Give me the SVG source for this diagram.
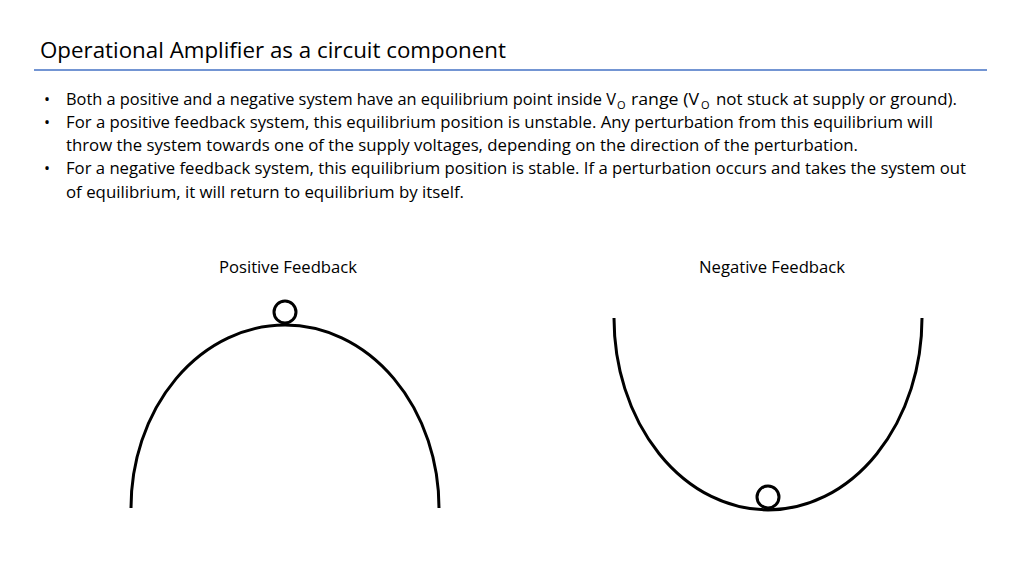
<svg xmlns="http://www.w3.org/2000/svg" width="1024" height="576" viewBox="0 0 1024 576">
<style>
text{font-family:"Open Sans","Liberation Sans",sans-serif;fill:#000}
.b{font-size:16px}
.s{font-size:11px}
.c{fill:none;stroke:#000;stroke-width:3}
</style>
<rect width="1024" height="576" fill="#fff"/>
<g id="title">
<text x="40" y="58" font-size="22" textLength="466" lengthAdjust="spacingAndGlyphs">Operational Amplifier as a circuit component</text>
<line x1="34" y1="70" x2="987" y2="70" stroke="#4472C4" stroke-width="1.5"/>
</g>
<g id="bullets" class="b">
<text class="b" x="44" y="105">•</text>
<text class="b" x="66" y="105" textLength="550" lengthAdjust="spacingAndGlyphs">Both a positive and a negative system have an equilibrium point inside V</text>
<text class="s" x="617" y="109">O</text>
<text class="b" x="631" y="105" textLength="68" lengthAdjust="spacingAndGlyphs">range (V</text>
<text class="s" x="701" y="109">O</text>
<text class="b" x="716" y="105" textLength="241" lengthAdjust="spacingAndGlyphs">not stuck at supply or ground).</text>
<text class="b" x="44" y="128">•</text>
<text class="b" x="66" y="128" textLength="867" lengthAdjust="spacingAndGlyphs">For a positive feedback system, this equilibrium position is unstable. Any perturbation from this equilibrium will</text>
<text class="b" x="66" y="151" textLength="792" lengthAdjust="spacingAndGlyphs">throw the system towards one of the supply voltages, depending on the direction of the perturbation.</text>
<text class="b" x="44" y="174">•</text>
<text class="b" x="66" y="174" textLength="900" lengthAdjust="spacingAndGlyphs">For a negative feedback system, this equilibrium position is stable. If a perturbation occurs and takes the system out</text>
<text class="b" x="66" y="198" textLength="398" lengthAdjust="spacingAndGlyphs">of equilibrium, it will return to equilibrium by itself.</text>
</g>
<g id="positive">
<text class="b" x="288" y="273" text-anchor="middle" textLength="138" lengthAdjust="spacingAndGlyphs">Positive Feedback</text>
<path class="c" d="M131,508 A154,183 0 0 1 439,508"/>
<circle class="c" cx="285" cy="312" r="11"/>
</g>
<g id="negative">
<text class="b" x="772" y="273" text-anchor="middle" textLength="146" lengthAdjust="spacingAndGlyphs">Negative Feedback</text>
<path class="c" d="M614,318 A154,192 0 0 0 922,318"/>
<circle class="c" cx="768" cy="497" r="11"/>
</g>
</svg>
